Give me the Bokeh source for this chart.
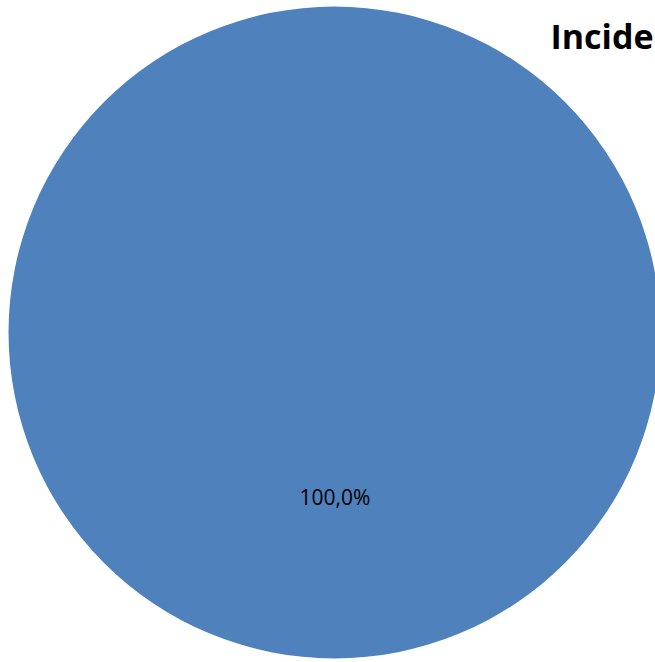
import math
from bokeh.plotting import figure
from bokeh.models import ColumnDataSource
from bokeh.core.properties import value
from bokeh.embed import file_html
from bokeh.resources import INLINE

# data
categories = ["Incidencia"]
values = [100.0]
labels = ["100,0%"]
title_text = "Incide"

W, H = 655, 662
p = figure(width=W, height=H, x_range=(0, W), y_range=(0, H),
           output_backend="svg", toolbar_location=None, min_border=0,
           outline_line_color=None, background_fill_color="white")
p.axis.visible = False
p.grid.visible = False

total = sum(values)
starts, ends, cum = [], [], 0.0
for v in values:
    a0 = math.pi / 2 - cum / total * 2 * math.pi
    cum += v
    a1 = math.pi / 2 - cum / total * 2 * math.pi
    starts.append(a1)
    ends.append(a0)

cx, cy, r = 334, H - 332, 326
src = ColumnDataSource(dict(cat=categories, val=values, start=starts, end=ends,
                            lab=labels, x=[cx] * len(values), y=[cy] * len(values)))
if len(values) == 1:
    p.circle(x="x", y="y", radius=r, source=src, fill_color="#4F81BD", line_color=None)
else:
    p.wedge(x="x", y="y", radius=r, start_angle="start", end_angle="end",
            source=src, fill_color="#4F81BD", line_color="white")

lsrc = ColumnDataSource(dict(x=[cx + 0.5], y=[cy - 164], t=labels))
p.text(x="x", y="y", text="t", source=lsrc, text_font=value("Open Sans"),
       text_font_size="21px", text_align="center", text_baseline="middle",
       text_color="black")

tsrc = ColumnDataSource(dict(x=[550], y=[H - 35], t=[title_text]))
p.text(x="x", y="y", text="t", source=tsrc, text_font=value("Open Sans"),
       text_font_size="34px", text_font_style="bold", text_align="left",
       text_baseline="alphabetic", text_color="black")

open("out.html", "w").write(file_html(p, INLINE))
